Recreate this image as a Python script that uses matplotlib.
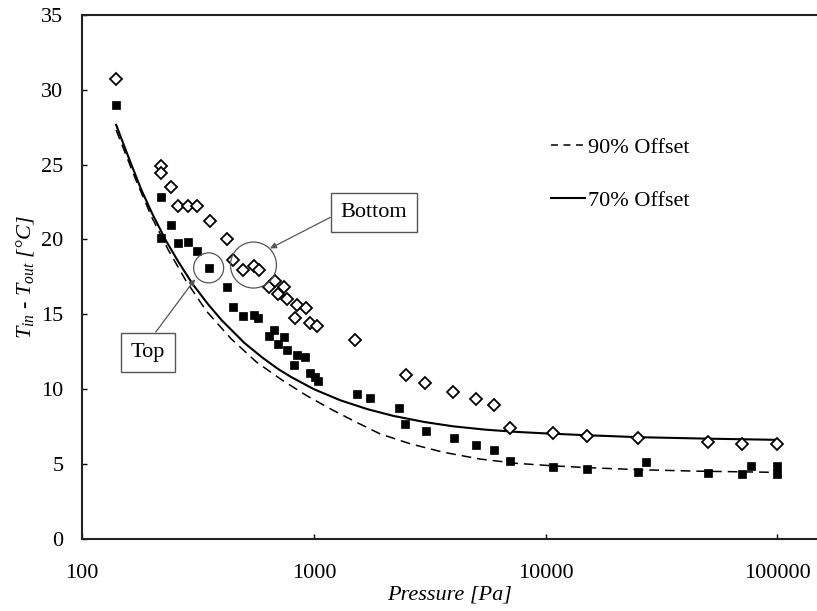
import matplotlib
matplotlib.use("Agg")
import matplotlib.pyplot as plt
from matplotlib.lines import Line2D
from matplotlib.ticker import FixedLocator, FixedFormatter, NullLocator

plt.rcParams["font.family"] = ["Liberation Serif", "DejaVu Serif"]
plt.rcParams["mathtext.fontset"] = "custom"
plt.rcParams["mathtext.rm"] = "Liberation Serif"
plt.rcParams["mathtext.it"] = "Liberation Serif:italic"
plt.rcParams["lines.scale_dashes"] = False

# Measured temperature drop, sensor at the bottom position (open diamonds)
bottom_p = [140, 218, 218, 241, 260, 285, 312, 356, 423, 446,
            495, 552, 579, 639, 679, 701, 744, 767, 828, 842,
            921, 961, 1027, 1500, 2500, 3000, 4000, 5000, 6000, 7000,
            10800, 15000, 25000, 50000, 70000, 100000]
bottom_dt = [30.7, 24.9, 24.45, 23.5, 22.2, 22.2, 22.2, 21.2, 20.0, 18.6,
             17.96, 18.2, 17.96, 16.8, 17.24, 16.33, 16.84, 16.0, 14.77, 15.62,
             15.44, 14.44, 14.24, 13.28, 10.95, 10.41, 9.79, 9.33, 8.96, 7.43,
             7.08, 6.9, 6.74, 6.46, 6.36, 6.34]

# Measured temperature drop, sensor at the top position (filled squares)
top_p = [140, 218, 218, 241, 260, 285, 312, 353, 423, 446,
         495, 551, 575, 639, 672, 701, 742, 763, 822, 842,
         914, 961, 1009, 1045, 1532, 1751, 2339, 2463, 3053, 4033,
         5000, 6000, 7000, 10800, 15000, 25000, 27200, 50000, 70000, 77000,
         100000, 100000]
top_dt = [28.97, 22.85, 20.07, 20.96, 19.74, 19.8, 19.2, 18.07, 16.8, 15.51,
          14.89, 14.95, 14.73, 13.55, 13.95, 13.0, 13.46, 12.62, 11.62, 12.28,
          12.13, 11.1, 10.83, 10.57, 9.68, 9.43, 8.72, 7.68, 7.2, 6.74,
          6.27, 5.92, 5.21, 4.79, 4.69, 4.49, 5.14, 4.39, 4.34, 4.89,
          4.87, 4.34]

# Model curves
p70 = [140, 160, 180, 200, 230, 260, 300, 350, 400, 500, 600, 700, 800, 1000,
       1300, 1700, 2200, 3000, 4000, 5500, 7500, 10000, 15000, 25000, 50000, 100000]
dt70 = [27.65, 25.3, 23.3, 21.75, 19.9, 18.5, 17.0, 15.65, 14.6, 13.1, 12.1, 11.35, 10.8, 10.0,
        9.26, 8.67, 8.22, 7.81, 7.52, 7.3, 7.15, 7.05, 6.93, 6.8, 6.7, 6.62]

p90 = [140, 170, 200, 235, 280, 344, 440, 566, 730, 930, 1200, 1532, 1927, 2600,
       3600, 5200, 7500, 10900, 16000, 25000, 45000, 100000]
dt90 = [27.3, 24.0, 21.45, 19.3, 17.25, 15.2, 13.35, 11.8, 10.6, 9.57, 8.62, 7.78, 7.02, 6.36,
        5.8, 5.34, 5.05, 4.88, 4.75, 4.63, 4.53, 4.45]

x_ticks = [100, 1000, 10000, 100000]
x_tick_labels = ["100", "1000", "10000", "100000"]
y_ticks = [0, 5, 10, 15, 20, 25, 30, 35]

fig = plt.figure(figsize=(8.17, 6.11), dpi=100)
ax = fig.add_axes([0.1007, 0.1178, 0.8993, 0.8581])

ax.plot(p90, dt90, color="black", lw=1.1, dashes=(7, 4.3), zorder=2)
ax.plot(p70, dt70, color="black", lw=1.5, zorder=2)

ax.plot(bottom_p, bottom_dt, ls="none", marker="D", ms=5.8, mfc="white",
        mec="black", mew=1.3, zorder=3)
ax.plot(top_p, top_dt, ls="none", marker="s", ms=6, mfc="black",
        mec="black", mew=0.5, zorder=3)

# circled groups
ax.scatter([548], [18.29], s=1097, facecolors="none", edgecolors="#555555",
           linewidths=0.9, zorder=4)
ax.scatter([351], [18.1], s=467, facecolors="none", edgecolors="#555555",
           linewidths=0.9, zorder=4)

box = dict(boxstyle="square,pad=0.45", fc="white", ec="#555555", lw=1.0)
ax.annotate("Bottom", xy=(646, 19.4), xytext=(1816, 21.83), ha="center", va="center",
            fontsize=16, bbox=box, zorder=5,
            arrowprops=dict(arrowstyle="-|>", color="#555555", lw=0.9,
                            mutation_scale=9, shrinkA=0, shrinkB=0, relpos=(0, 0.5)))
ax.annotate("Top", xy=(306.5, 17.34), xytext=(192, 12.48), ha="center", va="center",
            fontsize=16, bbox=box, zorder=5,
            arrowprops=dict(arrowstyle="-|>", color="#555555", lw=0.9,
                            mutation_scale=9, shrinkA=0, shrinkB=0, relpos=(0.5, 1)))

ax.set_xscale("log")
ax.set_xlim(100, 1.482e5)
ax.set_ylim(0, 35)
ax.xaxis.set_major_locator(FixedLocator(x_ticks))
ax.xaxis.set_major_formatter(FixedFormatter(x_tick_labels))
ax.xaxis.set_minor_locator(NullLocator())
ax.set_yticks(y_ticks)

for side in ("left", "bottom", "top"):
    ax.spines[side].set_linewidth(1.5)
    ax.spines[side].set_color("#222222")
ax.spines["right"].set_visible(False)

ax.tick_params(axis="both", which="major", direction="in", length=3.6, width=1,
               labelsize=16, top=False, right=False)
ax.tick_params(axis="x", pad=18)
ax.tick_params(axis="y", pad=13.5)

ax.set_xlabel("Pressure [Pa]", fontsize=16, fontstyle="italic", labelpad=2)
ax.set_ylabel(r"$T_{in}$ - $T_{out}$ [°C]", fontsize=16, fontstyle="italic")

legend_handles = [
    Line2D([], [], color="black", lw=1.1, dashes=(5, 4)),
    Line2D([], [], color="black", lw=1.5),
]
ax.legend(legend_handles, ["90% Offset", "70% Offset"], loc="upper left",
          bbox_to_anchor=(0.6375, 0.766), frameon=False, fontsize=16,
          handlelength=1.55, handletextpad=0.15, labelspacing=1.47,
          borderpad=0, borderaxespad=0)

fig.savefig("out.png", dpi=100)
